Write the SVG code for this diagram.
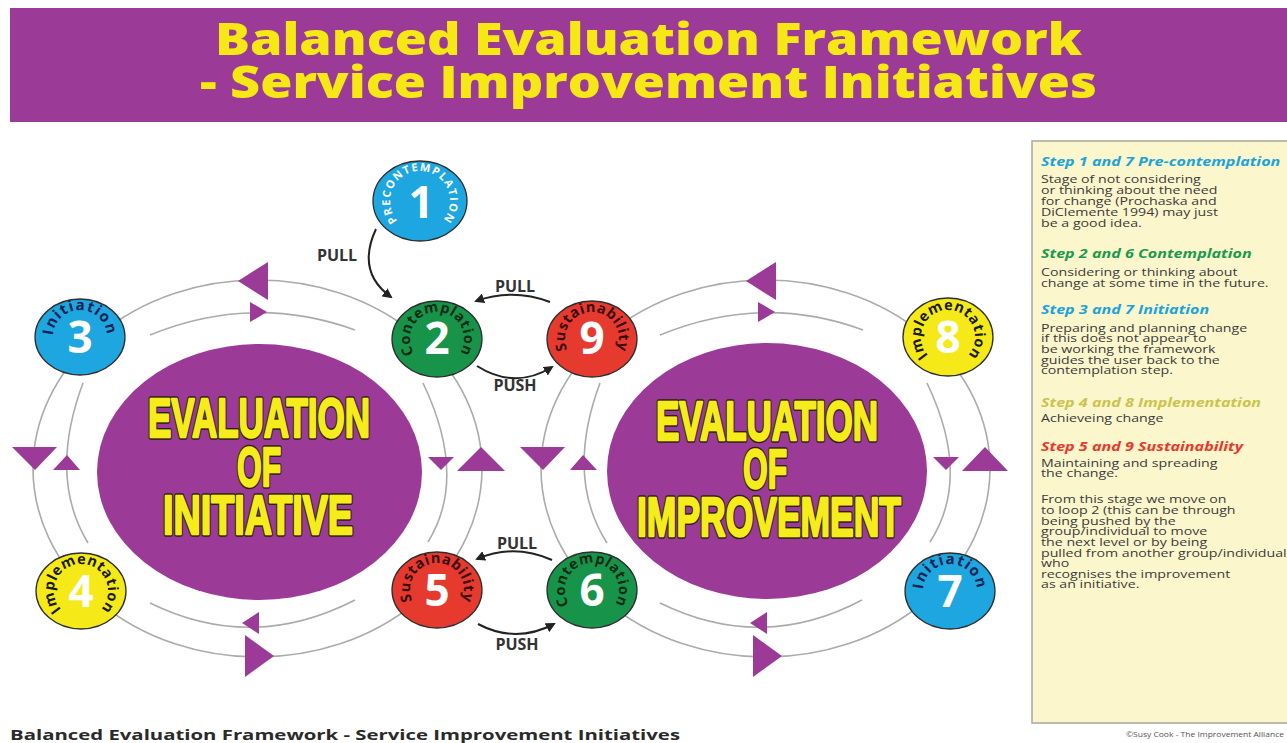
<svg xmlns="http://www.w3.org/2000/svg" width="1287" height="743" viewBox="0 0 1287 743">
<style>
.ring{fill:none;stroke:#ababab;stroke-width:1.6}
.tri{fill:#9b3a97}
.big{fill:#9b3a97}
.bigo{font-family:"Liberation Sans",Arial,sans-serif;font-weight:bold;font-size:55px;fill:#2a2410;stroke:#2a2410;stroke-width:5.5;stroke-linejoin:round}
.bigi{font-family:"Liberation Sans",Arial,sans-serif;font-weight:bold;font-size:55px;fill:#f7ec1b;stroke:#f7ec1b;stroke-width:2.4;stroke-linejoin:round}
.node{stroke:#2e2e2e;stroke-width:1.3}
.digit{font-family:"Open Sans","DejaVu Sans",sans-serif;font-weight:bold;font-size:44px;fill:#ffffff;text-anchor:middle}
.lbl{font-family:"Open Sans","DejaVu Sans",sans-serif;font-weight:bold;font-size:14.5px;letter-spacing:0.5px;text-anchor:middle}
.pp{font-family:"Open Sans","DejaVu Sans",sans-serif;font-weight:bold;font-size:16px;fill:#333;text-anchor:middle}
.arr{fill:none;stroke:#222;stroke-width:2}
.side{font-family:"Open Sans","DejaVu Sans",sans-serif;font-size:11px;fill:#3a3a3a}
.hd{font-family:"Open Sans","DejaVu Sans",sans-serif;font-size:12.5px;font-weight:bold;font-style:italic}
</style>
<defs>
<marker id="ah" viewBox="0 0 10 10" refX="8" refY="5" markerWidth="5" markerHeight="5" orient="auto" markerUnits="strokeWidth">
<path d="M0,0 L10,5 L0,10 z" fill="#222"/>
</marker>
<path id="p1" d="M405,227 A30,30 0 1 1 435,227"/>
<path id="p2" d="M423.5,362.4 A27,27 0 1 1 450.5,362.4"/>
<path id="p9" d="M578.5,362.4 A27,27 0 1 1 605.5,362.4"/>
<path id="p3" d="M66.5,360.4 A27,27 0 1 1 93.5,360.4"/>
<path id="p8" d="M934.5,360.4 A27,27 0 1 1 961.5,360.4"/>
<path id="p4" d="M67.5,614.4 A27,27 0 1 1 94.5,614.4"/>
<path id="p5" d="M423.5,613.4 A27,27 0 1 1 450.5,613.4"/>
<path id="p6" d="M578.5,613.4 A27,27 0 1 1 605.5,613.4"/>
<path id="p7" d="M936.5,614.4 A27,27 0 1 1 963.5,614.4"/>
</defs>
<rect width="1287" height="743" fill="#ffffff"/>

<g id="header">
<rect x="10" y="8" width="1277" height="114" fill="#9b3a97"/>
<text x="215" y="55" font-family="'Open Sans','DejaVu Sans',sans-serif" font-weight="800" font-size="45" fill="#f5e814" textLength="867" lengthAdjust="spacingAndGlyphs">Balanced Evaluation Framework</text>
<text x="200" y="98" font-family="'Open Sans','DejaVu Sans',sans-serif" font-weight="800" font-size="45" fill="#f5e814" textLength="897" lengthAdjust="spacingAndGlyphs">- Service Improvement Initiatives</text>
</g>

<g id="connectors">
<g id="loop-left-rings">
<ellipse class="ring" cx="257.5" cy="468.5" rx="224.5" ry="188.5"/>
<path class="ring" d="M150,335 Q252,293 355,330"/>
<path class="ring" d="M83,383 Q48,477 88,543"/>
<path class="ring" d="M423,383 Q468,477 428,542"/>
<path class="ring" d="M150,603 Q252,653 355,600"/>
<polygon class="tri" points="238,281 268,262 268,300"/>
<polygon class="tri" points="250,302 267,312 250,322"/>
<polygon class="tri" points="12,447 57,447 35,470"/>
<polygon class="tri" points="53,470 80,470 67,455"/>
<polygon class="tri" points="428,457 454,457 441,470"/>
<polygon class="tri" points="457,471 505,471 481,447"/>
<polygon class="tri" points="242,623 259,612 259,634"/>
<polygon class="tri" points="245,635 274,656 245,677"/>
</g>
<g id="loop-right-rings" transform="translate(508,0)">
<ellipse class="ring" cx="257.5" cy="468.5" rx="224.5" ry="188.5"/>
<path class="ring" d="M152,335 Q254,293 355,330"/>
<path class="ring" d="M92,383 Q57,477 99,543"/>
<path class="ring" d="M419,383 Q464,477 422,542"/>
<path class="ring" d="M152,603 Q254,653 354,600"/>
<polygon class="tri" points="238,281 268,262 268,300"/>
<polygon class="tri" points="250,302 267,312 250,322"/>
<polygon class="tri" points="12,447 57,447 35,470"/>
<polygon class="tri" points="62,470 89,470 75,455"/>
<polygon class="tri" points="425,457 451,457 438,470"/>
<polygon class="tri" points="454,471 500,471 477,447"/>
<polygon class="tri" points="242,623 259,612 259,634"/>
<polygon class="tri" points="245,635 274,656 245,677"/>
</g>
<path class="arr" marker-end="url(#ah)" d="M376,229 Q356,272 391,297"/>
<path class="arr" marker-end="url(#ah)" d="M550,302 Q513,288 476,301"/>
<path class="arr" marker-end="url(#ah)" d="M477,366 Q515,390 552,367"/>
<path class="arr" marker-end="url(#ah)" d="M552,560 Q514,543 477,559"/>
<path class="arr" marker-end="url(#ah)" d="M478,624 Q516,644 554,624"/>
<text class="pp" x="337" y="261">PULL</text>
<text class="pp" x="515" y="292">PULL</text>
<text class="pp" x="515" y="391">PUSH</text>
<text class="pp" x="517" y="549">PULL</text>
<text class="pp" x="517" y="650">PUSH</text>
</g>

<g id="center-left">
<ellipse class="big" cx="259.5" cy="472" rx="162.5" ry="128"/>
<text class="bigo" x="148" y="437" textLength="222" lengthAdjust="spacingAndGlyphs">EVALUATION</text>
<text class="bigo" x="237" y="486" textLength="44" lengthAdjust="spacingAndGlyphs">OF</text>
<text class="bigo" x="163" y="534" textLength="190" lengthAdjust="spacingAndGlyphs">INITIATIVE</text>
<text class="bigi" x="148" y="437" textLength="222" lengthAdjust="spacingAndGlyphs">EVALUATION</text>
<text class="bigi" x="237" y="486" textLength="44" lengthAdjust="spacingAndGlyphs">OF</text>
<text class="bigi" x="163" y="534" textLength="190" lengthAdjust="spacingAndGlyphs">INITIATIVE</text>
</g>
<g id="center-right">
<ellipse class="big" cx="767" cy="471" rx="160" ry="128"/>
<text class="bigo" x="656" y="440" textLength="222" lengthAdjust="spacingAndGlyphs">EVALUATION</text>
<text class="bigo" x="743" y="488" textLength="44" lengthAdjust="spacingAndGlyphs">OF</text>
<text class="bigo" x="637" y="536" textLength="264" lengthAdjust="spacingAndGlyphs">IMPROVEMENT</text>
<text class="bigi" x="656" y="440" textLength="222" lengthAdjust="spacingAndGlyphs">EVALUATION</text>
<text class="bigi" x="743" y="488" textLength="44" lengthAdjust="spacingAndGlyphs">OF</text>
<text class="bigi" x="637" y="536" textLength="264" lengthAdjust="spacingAndGlyphs">IMPROVEMENT</text>
</g>

<g id="node1">
<ellipse class="node" cx="420" cy="201" rx="47" ry="40" fill="#1ea6e0"/>
<text class="lbl" style="font-size:11px;letter-spacing:1.3px" fill="#ffffff"><textPath href="#p1" startOffset="50%">PRECONTEMPLATION</textPath></text>
<text class="digit" x="421" y="218">1</text>
</g>
<g id="node2">
<ellipse class="node" cx="437" cy="339" rx="45" ry="38" fill="#17944a"/>
<text class="lbl" fill="#0b2b15"><textPath href="#p2" startOffset="50%">Contemplation</textPath></text>
<text class="digit" x="437" y="354">2</text>
</g>
<g id="node9">
<ellipse class="node" cx="592" cy="339" rx="45" ry="38" fill="#e73a2f"/>
<text class="lbl" fill="#3a0b0b"><textPath href="#p9" startOffset="50%">Sustainability</textPath></text>
<text class="digit" x="592" y="354">9</text>
</g>
<g id="node3">
<ellipse class="node" cx="80" cy="337" rx="45" ry="38" fill="#1ea6e0"/>
<text class="lbl" style="font-size:15px;letter-spacing:1.2px" fill="#0d2350"><textPath href="#p3" startOffset="50%">Initiation</textPath></text>
<text class="digit" x="80" y="353">3</text>
</g>
<g id="node8">
<ellipse class="node" cx="948" cy="337" rx="45" ry="39" fill="#f5ea18"/>
<text class="lbl" fill="#1a1a1a"><textPath href="#p8" startOffset="50%">Implementation</textPath></text>
<text class="digit" x="948" y="353">8</text>
</g>
<g id="node4">
<ellipse class="node" cx="81" cy="591" rx="45" ry="38" fill="#f5ea18"/>
<text class="lbl" fill="#1a1a1a"><textPath href="#p4" startOffset="50%">Implementation</textPath></text>
<text class="digit" x="81" y="607">4</text>
</g>
<g id="node5">
<ellipse class="node" cx="437" cy="590" rx="45" ry="38" fill="#e73a2f"/>
<text class="lbl" fill="#3a0b0b"><textPath href="#p5" startOffset="50%">Sustainability</textPath></text>
<text class="digit" x="437" y="606">5</text>
</g>
<g id="node6">
<ellipse class="node" cx="592" cy="590" rx="45" ry="38" fill="#17944a"/>
<text class="lbl" fill="#0b2b15"><textPath href="#p6" startOffset="50%">Contemplation</textPath></text>
<text class="digit" x="592" y="606">6</text>
</g>
<g id="node7">
<ellipse class="node" cx="950" cy="591" rx="45" ry="38" fill="#1ea6e0"/>
<text class="lbl" style="font-size:15px;letter-spacing:1.2px" fill="#0d2350"><textPath href="#p7" startOffset="50%">Initiation</textPath></text>
<text class="digit" x="950" y="607">7</text>
</g>

<g id="sidebar">
<rect x="1032" y="141" width="262" height="582" fill="#fcf6cc" stroke="#a8a8a0" stroke-width="1.5"/>
<g transform="translate(1041,0) scale(1.29,1)">
<text class="hd" x="0" y="166" fill="#1ba3dc">Step 1 and 7 Pre-contemplation</text>
<text class="side" x="0" y="183">Stage of not considering</text>
<text class="side" x="0" y="194">or thinking about the need</text>
<text class="side" x="0" y="205">for change (Prochaska and</text>
<text class="side" x="0" y="216">DiClemente 1994) may just</text>
<text class="side" x="0" y="227">be a good idea.</text>
<text class="hd" x="0" y="258" fill="#1a9a4c">Step 2 and 6 Contemplation</text>
<text class="side" x="0" y="276">Considering or thinking about</text>
<text class="side" x="0" y="287">change at some time in the future.</text>
<text class="hd" x="0" y="314" fill="#1ba3dc">Step 3 and 7 Initiation</text>
<text class="side" x="0" y="332">Preparing and planning change</text>
<text class="side" x="0" y="342">if this does not appear to</text>
<text class="side" x="0" y="353">be working the framework</text>
<text class="side" x="0" y="364">guides the user back to the</text>
<text class="side" x="0" y="374">contemplation step.</text>
<text class="hd" x="0" y="407" fill="#cbc34e">Step 4 and 8 Implementation</text>
<text class="side" x="0" y="422">Achieveing change</text>
<text class="hd" x="0" y="451" fill="#e8392c">Step 5 and 9 Sustainability</text>
<text class="side" x="0" y="467">Maintaining and spreading</text>
<text class="side" x="0" y="477">the change.</text>
<text class="side" x="0" y="503">From this stage we move on</text>
<text class="side" x="0" y="514">to loop 2 (this can be through</text>
<text class="side" x="0" y="525">being pushed by the</text>
<text class="side" x="0" y="535">group/individual to move</text>
<text class="side" x="0" y="546">the next level or by being</text>
<text class="side" x="0" y="557">pulled from another group/individual</text>
<text class="side" x="0" y="567">who</text>
<text class="side" x="0" y="578">recognises the improvement</text>
<text class="side" x="0" y="588">as an initiative.</text>
</g>
</g>

<g id="footer">
<text x="10" y="740" font-family="'Open Sans','DejaVu Sans',sans-serif" font-weight="bold" font-size="15" fill="#2a2a2a" textLength="670" lengthAdjust="spacingAndGlyphs">Balanced Evaluation Framework - Service Improvement Initiatives</text>
<text x="1126" y="737" font-family="'Open Sans','DejaVu Sans',sans-serif" font-size="7" fill="#555" textLength="158" lengthAdjust="spacingAndGlyphs">©Susy Cook - The Improvement Alliance</text>
</g>
</svg>
